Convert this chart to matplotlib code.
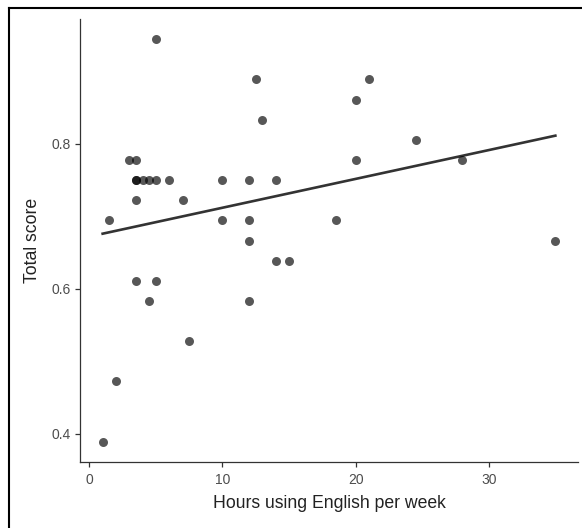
"""
Scatter of total score against weekly hours of English use, with a linear fit.
"""
import matplotlib
matplotlib.use("Agg")
import matplotlib.pyplot as plt
from matplotlib.lines import Line2D
import numpy as np

plt.rcParams["font.family"] = ["Liberation Sans", "DejaVu Sans"]

# hours per week and total score (scores are k/36)
HOURS = [1, 1.5, 2, 3, 3.5, 3.5, 3.5, 4, 4.5, 5, 6, 10, 12, 14,
         3.5, 7, 10, 12, 18.5, 12, 35, 3.5, 5, 4.5, 12, 7.5,
         5, 12.5, 21, 13, 20, 24.5, 20, 28, 14, 15]
SCORE_K = [14, 25, 17, 28, 28, 27, 27, 27, 27, 27, 27, 27, 27, 27,
           26, 26, 25, 25, 25, 24, 24, 22, 22, 21, 21, 19,
           34, 32, 32, 30, 31, 29, 28, 28, 23, 23]
SCORE = [k / 36 for k in SCORE_K]

X_TICKS = [0, 10, 20, 30]
Y_TICKS = [0.4, 0.6, 0.8]


def main():
    fig = plt.figure(figsize=(5.82, 5.28), dpi=100)
    ax = fig.add_axes([80 / 582, 1 - 462 / 528, 498 / 582, 443 / 528])

    x = np.array(HOURS)
    y = np.array(SCORE)
    ax.scatter(x, y, s=42, color="black", alpha=0.66, linewidths=0, zorder=3)

    slope, intercept = np.polyfit(x, y, 1)
    xs = np.array([x.min(), x.max()])
    ax.plot(xs, intercept + slope * xs, color="#333333", linewidth=1.9, zorder=2)

    pad_x = 0.05 * (x.max() - x.min())
    pad_y = 0.05 * (y.max() - y.min())
    ax.set_xlim(x.min() - pad_x, x.max() + pad_x)
    ax.set_ylim(y.min() - pad_y, y.max() + pad_y)

    ax.set_xticks(X_TICKS)
    ax.set_yticks(Y_TICKS)
    ax.set_xticklabels([str(t) for t in X_TICKS])
    ax.set_yticklabels([f"{t:.1f}" for t in Y_TICKS])
    ax.tick_params(colors="#333333", labelcolor="#4d4d4d", labelsize=10,
                   length=3.5, width=0.9, pad=3)
    ax.tick_params(axis="x", pad=4.5)

    for side in ("top", "right"):
        ax.spines[side].set_visible(False)
    for side in ("left", "bottom"):
        ax.spines[side].set_color("#333333")
        ax.spines[side].set_linewidth(0.9)

    ax.set_xlabel("Hours using English per week", fontsize=12.7, color="#222222", labelpad=6)
    ax.set_ylabel("Total score", fontsize=12.7, color="#222222", labelpad=8)

    # frame of the screenshot (top and left only)
    fig.add_artist(Line2D([9 / 582, 1], [1 - 8 / 528] * 2, color="black",
                          linewidth=1.5, transform=fig.transFigure))
    fig.add_artist(Line2D([9 / 582] * 2, [0, 1 - 8 / 528], color="black",
                          linewidth=1.5, transform=fig.transFigure))

    fig.savefig("out.png", dpi=100)
    plt.close(fig)


if __name__ == "__main__":
    main()
